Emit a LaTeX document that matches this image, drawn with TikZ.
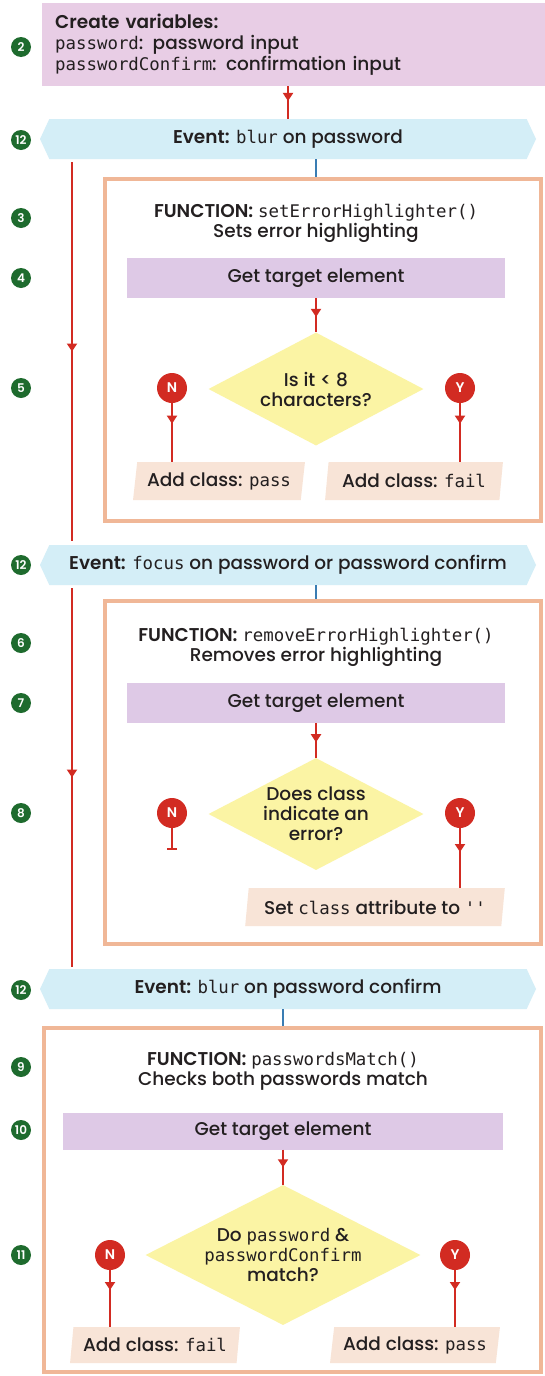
\documentclass[tikz,border=0pt]{standalone}
\usepackage{fontspec}
\setmainfont{Poppins}[UprightFont=* Medium, BoldFont=* SemiBold]
\setmonofont{DejaVu Sans Mono}[Scale=0.94]
\usetikzlibrary{arrows.meta, shapes.geometric, shapes.symbols, decorations.markings}
\definecolor{stepgreen}{HTML}{1E6B2E}
\definecolor{flowred}{HTML}{D22B22}
\definecolor{varfill}{HTML}{E8CDE5}
\definecolor{getfill}{HTML}{DEC9E6}
\definecolor{eventfill}{HTML}{D4EEF7}
\definecolor{funcline}{HTML}{F0B797}
\definecolor{actfill}{HTML}{F8E4D7}
\definecolor{askfill}{HTML}{FBF4A4}
\definecolor{tickblue}{HTML}{3A7DB3}
\definecolor{inktext}{HTML}{231F20}

\begin{document}
\begin{tikzpicture}[x=1pt, y=-1pt,
    every node/.style={font=\fontsize{18.5}{20}\selectfont, text=inktext},
    stepno/.style={circle, fill=stepgreen, text=white, inner sep=0pt, minimum size=20pt, font=\fontsize{12}{12}\selectfont\bfseries},
    answer/.style={circle, fill=flowred, text=white, inner sep=0pt, minimum size=30pt, font=\fontsize{14}{14}\selectfont\bfseries},
    event/.style={signal, signal to=west and east, signal pointer angle=130, fill=eventfill, minimum width=496pt, minimum height=40pt, inner sep=0pt},
    funcbox/.style={draw=funcline, line width=4pt, fill=white},
    getbox/.style={fill=getfill, minimum height=40pt, inner sep=0pt},
    actbox/.style={trapezium, trapezium left angle=78, trapezium right angle=102, trapezium stretches=true, fill=actfill, minimum height=38pt, inner sep=0pt},
    ask/.style={diamond, aspect=1.9, fill=askfill, inner sep=-4pt, align=center},
    flow/.style={draw=flowred, line width=1.8pt},
    midarrow/.style={flow, postaction={decorate}, decoration={markings, mark=at position #1 with {\arrow{Triangle[width=10pt, length=8pt]}}}},
    midarrow/.default=0.5,
    tick/.style={draw=tickblue, line width=1.8pt}
]
\useasboundingbox[fill=white] (0,0) rectangle (545,1376);

% variables and events
\node[fill=varfill, anchor=north west, minimum width=503pt, minimum height=83pt, text width=477pt, inner xsep=13pt, align=left, font=\fontsize{18.5}{21}\selectfont] (vars) at (42,3)
    {\textbf{Create variables:}\\\texttt{password}: password input\\\texttt{passwordConfirm}: confirmation input};
\node[event] (ev1) at (288,139) {\textbf{Event:} \texttt{blur} on password};
\node[event] (ev2) at (288,565) {\textbf{Event:} \texttt{focus} on password or password confirm};
\node[event] (ev3) at (288,989) {\textbf{Event:} \texttt{blur} on password confirm};

% function frames
\node[funcbox, minimum width=436pt, minimum height=342pt] (fn1) at (323,350) {};
\node[funcbox, minimum width=436pt, minimum height=343pt] (fn2) at (323,772) {};
\node[funcbox, minimum width=497pt, minimum height=344pt] (fn3) at (292,1200) {};

% setErrorHighlighter
\node[align=center] (title1) at (316,223) {\textbf{FUNCTION:} \texttt{setErrorHighlighter()}\\Sets error highlighting};
\node[getbox, minimum width=378pt] (get1) at (316,278) {Get target element};
\node[ask, minimum width=215pt, minimum height=113pt] (ask1) at (316,389) {Is it < 8\\characters?};
\node[answer] (no1) at (172,388) {N};
\node[answer] (yes1) at (460,388) {Y};
\node[actbox, minimum width=172pt] (pass1) at (219,481) {Add class: \texttt{pass}};
\node[actbox, minimum width=178pt] (fail1) at (414,481) {Add class: \texttt{fail}};

% removeErrorHighlighter
\node[align=center] (title2) at (316,647) {\textbf{FUNCTION:} \texttt{removeErrorHighlighter()}\\Removes error highlighting};
\node[getbox, minimum width=378pt] (get2) at (316,703) {Get target element};
\node[ask, minimum width=215pt, minimum height=112pt] (ask2) at (316,814) {Does class\\indicate an\\error?};
\node[answer] (no2) at (172,813) {N};
\node[answer] (yes2) at (460,813) {Y};
\coordinate (stop2) at (172,850);
\node[actbox, minimum width=260pt] (reset2) at (375,907) {Set \texttt{class} attribute to \texttt{''}};

% passwordsMatch
\node[align=center] (title3) at (283,1071) {\textbf{FUNCTION:} \texttt{passwordsMatch()}\\Checks both passwords match};
\node[getbox, minimum width=440pt, minimum height=37pt] (get3) at (283,1131) {Get target element};
\node[ask, minimum width=275pt, minimum height=140pt] (ask3) at (283,1255) {Do \texttt{password} \&\\\texttt{passwordConfirm}\\match?};
\node[answer] (no3) at (110,1255) {N};
\node[answer] (yes3) at (455,1255) {Y};
\node[actbox, minimum width=170pt, minimum height=36pt] (fail3) at (155,1345) {Add class: \texttt{fail}};
\node[actbox, minimum width=170pt, minimum height=36pt] (pass3) at (415,1345) {Add class: \texttt{pass}};

% step numbers
\foreach \num/\ypos [count=\i] in {2/47, 12/140, 3/218, 4/278, 5/388, 12/565, 6/643, 7/703, 8/813, 12/990, 9/1067, 10/1130, 11/1255}
    \node[stepno] (badge\i) at (21,\ypos) {\num};

% event flow down the left
\coordinate (run1a) at (72,162);
\coordinate (run1b) at (72,541);
\coordinate (run2a) at (72,588);
\coordinate (run2b) at (72,967);
\draw[midarrow] (run1a) -- (run1b);
\draw[midarrow] (run2a) -- (run2b);

% connectors
\draw[midarrow=0.45] (vars.south -| ev1.north) -- (ev1.north);
\draw[tick] (get1.north |- ev1.south) -- (get1.north |- fn1.north);
\draw[tick] (get2.north |- ev2.south) -- (get2.north |- fn2.north);
\draw[tick] (get3.north |- ev3.south) -- (get3.north |- fn3.north);
\draw[midarrow=0.55] (get1) -- (ask1);
\draw[midarrow=0.35] (no1) -- (no1 |- pass1.north);
\draw[midarrow=0.35] (yes1) -- (yes1 |- fail1.north);
\draw[midarrow=0.55] (get2) -- (ask2);
\draw[flow, -{Bar[width=10pt]}] (no2) -- (stop2);
\draw[midarrow=0.4] (yes2) -- (yes2 |- reset2.north);
\draw[midarrow=0.5] (get3) -- (ask3);
\draw[midarrow=0.35] (no3) -- (no3 |- fail3.north);
\draw[midarrow=0.35] (yes3) -- (yes3 |- pass3.north);
\end{tikzpicture}
\end{document}
